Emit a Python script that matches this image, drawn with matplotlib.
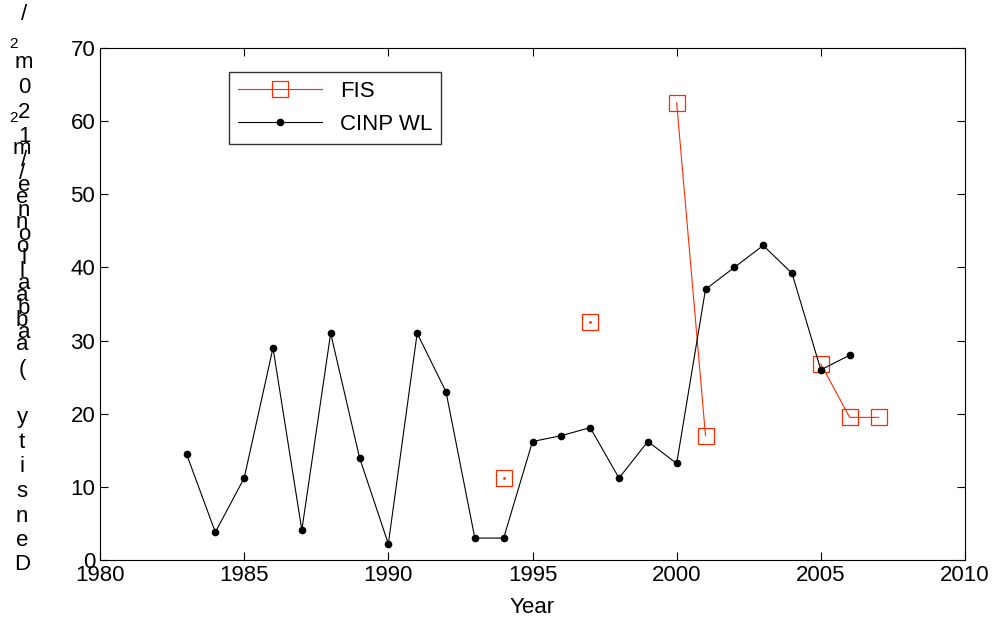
import numpy as np
import matplotlib.pyplot as plt

plt.rcParams['font.family'] = ['Liberation Sans', 'DejaVu Sans']

years_wl = [1983, 1984, 1985, 1986, 1987, 1988, 1989, 1990, 1991, 1992, 1993, 1994,
            1995, 1996, 1997, 1998, 1999, 2000, 2001, 2002, 2003, 2004, 2005, 2006]
dens_wl = [14.5, 3.8, 11.2, 29, 4.1, 31, 14, 2.2, 31, 23, 3, 3,
           16.2, 17, 18.1, 11.2, 16.2, 13.2, 37, 40, 43, 39.2, 26, 28]
years_fis = [1994, 1995, 1997, 1998, 2000, 2001, 2002, 2005, 2006, 2007]
dens_fis = [11.2, np.nan, 32.5, np.nan, 62.5, 17, np.nan, 26.8, 19.5, 19.5]

W, H = 998, 627
fig = plt.figure(figsize=(W / 100, H / 100), dpi=100)
ax = fig.add_axes([100 / W, 1 - 560 / H, 865 / W, 512 / H])

ax.plot(years_fis, dens_fis, color='#ff2a00', lw=0.8, marker='s', ms=11,
        mfc='none', mec='#ff2a00', mew=0.9, label='FIS')
ax.plot([1994, 1997], [11.2, 32.5], ls='none', marker='.', ms=2, color='#ff2a00')
ax.plot(years_wl, dens_wl, color='black', lw=0.8, marker='o', ms=4.5, label='CINP WL')

ax.set_xlim(1980, 2010)
ax.set_ylim(0, 70)
ax.set_xticks(range(1980, 2011, 5))
ax.set_yticks(range(0, 71, 10))
ax.tick_params(direction='in', labelsize=16, top=True, right=True, length=6)
ax.set_xlabel('Year', fontsize=16, labelpad=8)

leg = ax.legend(loc='upper left', bbox_to_anchor=(0.136, 0.975), fontsize=16,
                frameon=True, fancybox=False, edgecolor='black', handlelength=3.8,
                borderpad=0.4, labelspacing=0.55)
leg.get_frame().set_linewidth(1.0)

# stacked, overlapping y-label characters as in the original
col_a = "Density (abalone/m²"
col_b = "abalone/120m²/"
step = 24.5
for i, ch in enumerate(col_a):
    if ch == '²':
        fig.text(13 / W, 1 - (565 - i * step - 6) / H, '2', fontsize=11, ha='center', va='center')
    else:
        fig.text(22 / W, 1 - (565 - i * step) / H, ch, fontsize=16, ha='center', va='center')
start = 565 - 9 * step - 12
for i, ch in enumerate(col_b):
    if ch == '²':
        fig.text(13 / W, 1 - (start - i * step + 6) / H, '2', fontsize=11, ha='center', va='center')
    else:
        fig.text(24 / W, 1 - (start - i * step) / H, ch, fontsize=16, ha='center', va='center')

fig.savefig('out.png', dpi=100)
